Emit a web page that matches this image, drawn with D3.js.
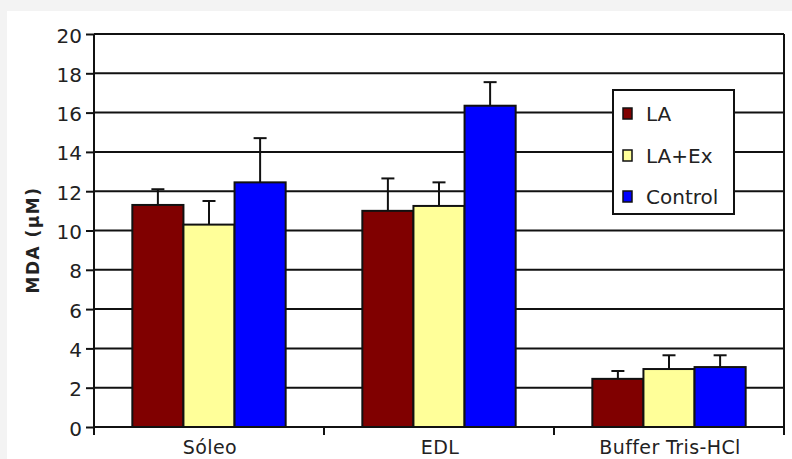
<!DOCTYPE html>
<html>
<head>
<meta charset="utf-8">
<script src="https://cdn.jsdelivr.net/npm/d3@7"></script>
<style>
  html, body { margin: 0; padding: 0; background: #f3f3f3; }
  svg { display: block; }
  text { font-family: "DejaVu Sans", Verdana, sans-serif; fill: #222; }
</style>
</head>
<body>
<svg id="chart" width="792" height="459"></svg>
<script>
// MDA concentration (µM) per tissue and treatment group
const categories = ["Sóleo", "EDL", "Buffer Tris-HCl"];
const seriesNames = ["LA", "LA+Ex", "Control"];
const seriesColors = ["#800000", "#ffff99", "#0000ff"];
const valuesLA      = [11.3, 11.0, 2.45];
const valuesLAEx    = [10.3, 11.25, 2.95];
const valuesControl = [12.45, 16.35, 3.05];
const errLA         = [0.8, 1.65, 0.4];
const errLAEx       = [1.2, 1.2, 0.7];
const errControl    = [2.25, 1.2, 0.6];
const yTicks = [0, 2, 4, 6, 8, 10, 12, 14, 16, 18, 20];
const yTitle = "MDA (µM)";

const seriesValues = [valuesLA, valuesLAEx, valuesControl];
const seriesErrors = [errLA, errLAEx, errControl];

const svg = d3.select("#chart");
const W = 792, H = 459;

// white panel
svg.append("rect").attr("x", 7).attr("y", 11).attr("width", W - 7).attr("height", H - 11).attr("fill", "#fff");

const plot = { left: 94, right: 784, top: 34, bottom: 427 };

const x = d3.scaleBand().domain(categories).range([plot.left, plot.right]).paddingInner(0).paddingOuter(0);
const bw = x.bandwidth();
const groupW = bw / (3 + 1.5) * 3;
const xs = d3.scaleBand().domain(seriesNames).range([(bw - groupW) / 2, (bw + groupW) / 2]).padding(0);
const y = d3.scaleLinear().domain([0, 20]).range([plot.bottom, plot.top]);

const lineColor = "#111";

// horizontal gridlines
svg.append("g").selectAll("line").data(yTicks.filter(d => d > 0)).join("line")
  .attr("x1", plot.left).attr("x2", plot.right)
  .attr("y1", d => y(d)).attr("y2", d => y(d))
  .attr("stroke", lineColor).attr("stroke-width", 2);

// right border of the plot area
svg.append("line").attr("x1", plot.right).attr("x2", plot.right)
  .attr("y1", plot.top).attr("y2", plot.bottom + 8)
  .attr("stroke", lineColor).attr("stroke-width", 2);

// bars
const rows = [];
categories.forEach((c, ci) => {
  seriesNames.forEach((s, si) => {
    rows.push({ cat: c, series: s, value: seriesValues[si][ci], err: seriesErrors[si][ci], color: seriesColors[si] });
  });
});

const bars = svg.append("g");
bars.selectAll("rect").data(rows).join("rect")
  .attr("x", d => x(d.cat) + xs(d.series))
  .attr("y", d => y(d.value))
  .attr("width", xs.bandwidth())
  .attr("height", d => y(0) - y(d.value))
  .attr("fill", d => d.color)
  .attr("stroke", lineColor).attr("stroke-width", 2);

// error bars (upper only)
const eb = svg.append("g").attr("stroke", lineColor).attr("stroke-width", 2);
eb.selectAll("line.v").data(rows).join("line").attr("class", "v")
  .attr("x1", d => x(d.cat) + xs(d.series) + xs.bandwidth() / 2)
  .attr("x2", d => x(d.cat) + xs(d.series) + xs.bandwidth() / 2)
  .attr("y1", d => y(d.value)).attr("y2", d => y(d.value + d.err));
eb.selectAll("line.c").data(rows).join("line").attr("class", "c")
  .attr("x1", d => x(d.cat) + xs(d.series) + xs.bandwidth() / 2 - 6.5)
  .attr("x2", d => x(d.cat) + xs(d.series) + xs.bandwidth() / 2 + 6.5)
  .attr("y1", d => y(d.value + d.err)).attr("y2", d => y(d.value + d.err));

// y axis
const yAxis = d3.axisLeft(y).tickValues(yTicks).tickSize(8).tickPadding(4).tickFormat(d3.format("d"));
const gy = svg.append("g").attr("transform", `translate(${plot.left},0)`).call(yAxis);
gy.select(".domain").attr("d", `M0,${plot.top}V${plot.bottom + 8}`).attr("stroke", lineColor).attr("stroke-width", 2);
gy.selectAll(".tick line").attr("stroke", lineColor).attr("stroke-width", 2);
gy.selectAll(".tick text").attr("font-size", 20).attr("fill", "#222")
  .attr("font-family", "DejaVu Sans, Verdana, sans-serif").attr("dy", "0.4em");

// x axis: baseline plus category-boundary ticks
const gx = svg.append("g");
gx.append("line").attr("x1", plot.left).attr("x2", plot.right)
  .attr("y1", y(0)).attr("y2", y(0)).attr("stroke", lineColor).attr("stroke-width", 2);
const bounds = categories.map(c => x(c)).concat([x(categories[categories.length - 1]) + bw]);
gx.selectAll("line.t").data(bounds).join("line").attr("class", "t")
  .attr("x1", d => d).attr("x2", d => d)
  .attr("y1", y(0)).attr("y2", y(0) + 8)
  .attr("stroke", lineColor).attr("stroke-width", 2);
gx.selectAll("text").data(categories).join("text")
  .attr("x", d => x(d) + bw / 2 + 1)
  .attr("y", 454)
  .attr("text-anchor", "middle")
  .attr("font-size", 19)
  .attr("letter-spacing", 0.4)
  .text(d => d);

// y axis title
svg.append("text")
  .attr("transform", "translate(39,240) rotate(-90)")
  .attr("text-anchor", "middle")
  .attr("font-size", 17).attr("font-weight", "bold")
  .attr("letter-spacing", 1.5)
  .text(yTitle);

// legend
const leg = svg.append("g");
leg.append("rect").attr("x", 613).attr("y", 90).attr("width", 121).attr("height", 124)
  .attr("fill", "#fff").attr("stroke", lineColor).attr("stroke-width", 2);
const legRows = [113, 155, 196];
seriesNames.forEach((s, i) => {
  leg.append("rect").attr("x", 623).attr("y", legRows[i] - 5).attr("width", 9).attr("height", 11)
    .attr("fill", seriesColors[i]).attr("stroke", lineColor).attr("stroke-width", 1.5);
  leg.append("text").attr("x", 646).attr("y", legRows[i] + 7.5)
    .attr("font-size", 20).text(s);
});
</script>
</body>
</html>
